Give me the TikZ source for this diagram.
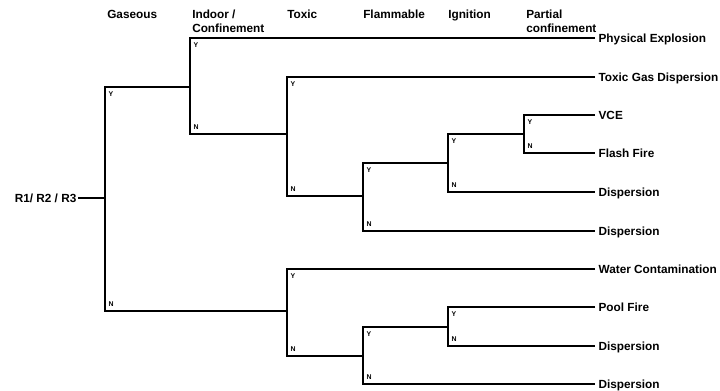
\documentclass[tikz,border=0pt]{standalone}
\usepackage{fontspec}
\setmainfont{Liberation Sans}
\usetikzlibrary{positioning}

\begin{document}
\begin{tikzpicture}[x=0.75pt, y=-0.75pt,
  branch/.style={line width=1.2pt, line join=miter},
  header/.style={font=\fontsize{8.85}{10.5}\selectfont\bfseries, anchor=north west, inner sep=0pt, align=left},
  outcome/.style={font=\fontsize{8.85}{10.5}\selectfont\bfseries, anchor=west, inner xsep=2.5pt, text height=6.4pt, text depth=0pt},
  yes/.style={font=\fontsize{5.2}{6}\selectfont\bfseries, anchor=north west, inner xsep=2.5pt, inner ysep=3pt},
  no/.style={font=\fontsize{5.2}{6}\selectfont\bfseries, anchor=south west, inner xsep=2.5pt, inner ysep=3pt}]
  \useasboundingbox (0,0) rectangle (720,391);

  % Headers
  \node[header] (hgas) at (107,10) {Gaseous};
  \node[header] (hind) at (192,10) {Indoor /\\Confinement};
  \node[header] (htox) at (287,10) {Toxic};
  \node[header] (hflam) at (363,10) {Flammable};
  \node[header] (hign) at (448,10) {Ignition};
  \node[header] (hpart) at (526,10) {Partial\\confinement};

  % Start and outcomes
  \node[outcome, anchor=east, inner xsep=1pt] (root) at (78,198) {R1/ R2 / R3};
  \node[outcome] (physical) at (595,38) {Physical Explosion};
  \node[outcome] (toxgas) at (595,77) {Toxic Gas Dispersion};
  \node[outcome] (vce) at (595,115) {VCE};
  \node[outcome] (flash) at (595,153) {Flash Fire};
  \node[outcome] (disp1) at (595,192) {Dispersion};
  \node[outcome] (disp2) at (595,231) {Dispersion};
  \node[outcome] (water) at (595,269) {Water Contamination};
  \node[outcome] (pool) at (595,307) {Pool Fire};
  \node[outcome] (disp3) at (595,346) {Dispersion};
  \node[outcome] (disp4) at (595,384) {Dispersion};

  % Split points
  \coordinate (gasY) at (105,87);    \coordinate (gasN) at (105,311);
  \coordinate (indY) at (190,38);    \coordinate (indN) at (190,134);
  \coordinate (tox1Y) at (287,77);   \coordinate (tox1N) at (287,196);
  \coordinate (flam1Y) at (363,163); \coordinate (flam1N) at (363,231);
  \coordinate (ign1Y) at (448,134);  \coordinate (ign1N) at (448,192);
  \coordinate (partY) at (524,115);  \coordinate (partN) at (524,153);
  \coordinate (tox2Y) at (287,269);  \coordinate (tox2N) at (287,356);
  \coordinate (flam2Y) at (363,327); \coordinate (flam2N) at (363,384);
  \coordinate (ign2Y) at (448,307);  \coordinate (ign2N) at (448,346);

  % Branches
  \draw[branch] (root) -- (root.east -| gasY);
  \draw[branch] (gasY -| indY) -- (gasY) -- (gasN) -- (gasN -| tox2Y);
  \draw[branch] (physical.west) -- (indY) -- (indN) -- (indN -| tox1Y);
  \draw[branch] (toxgas.west) -- (tox1Y) -- (tox1N) -- (tox1N -| flam1Y);
  \draw[branch] (flam1Y -| ign1Y) -- (flam1Y) -- (flam1N) -- (disp2.west);
  \draw[branch] (ign1Y -| partY) -- (ign1Y) -- (ign1N) -- (disp1.west);
  \draw[branch] (vce.west) -- (partY) -- (partN) -- (flash.west);
  \draw[branch] (water.west) -- (tox2Y) -- (tox2N) -- (tox2N -| flam2Y);
  \draw[branch] (flam2Y -| ign2Y) -- (flam2Y) -- (flam2N) -- (disp4.west);
  \draw[branch] (pool.west) -- (ign2Y) -- (ign2N) -- (disp3.west);

  % Y / N marks
  \node[yes] (gasYl) at (gasY) {Y};     \node[no] (gasNl) at (gasN) {N};
  \node[yes] (indYl) at (indY) {Y};     \node[no] (indNl) at (indN) {N};
  \node[yes] (tox1Yl) at (tox1Y) {Y};   \node[no] (tox1Nl) at (tox1N) {N};
  \node[yes] (flam1Yl) at (flam1Y) {Y}; \node[no] (flam1Nl) at (flam1N) {N};
  \node[yes] (ign1Yl) at (ign1Y) {Y};   \node[no] (ign1Nl) at (ign1N) {N};
  \node[yes] (partYl) at (partY) {Y};   \node[no] (partNl) at (partN) {N};
  \node[yes] (tox2Yl) at (tox2Y) {Y};   \node[no] (tox2Nl) at (tox2N) {N};
  \node[yes] (flam2Yl) at (flam2Y) {Y}; \node[no] (flam2Nl) at (flam2N) {N};
  \node[yes] (ign2Yl) at (ign2Y) {Y};   \node[no] (ign2Nl) at (ign2N) {N};
\end{tikzpicture}
\end{document}
